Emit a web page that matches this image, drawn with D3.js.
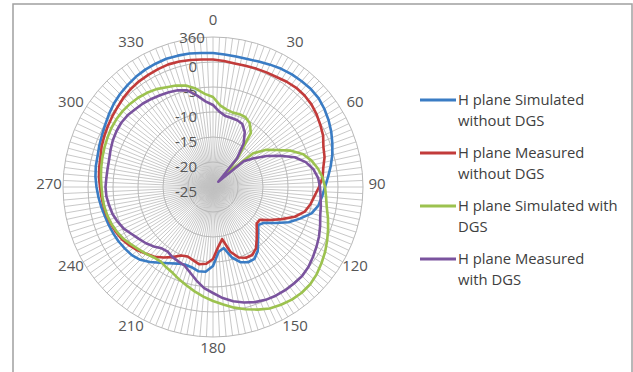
<!DOCTYPE html>
<html>
<head>
<meta charset="utf-8">
<script src="https://cdn.jsdelivr.net/npm/d3@7"></script>
<style>
  body { margin: 0; background: #fff; }
  text { font-family: "Open Sans", "Liberation Sans", sans-serif; }
</style>
</head>
<body>
<svg id="chart" width="633" height="372"></svg>
<script>
// angle categories (degrees), one value every 5 deg
const angles = d3.range(0, 360, 5);

const simNoDGS = [
  1.8, 1.6, 1.5, 1.5, 1.7, 2.0, 2.3, 2.5, 2.6, 2.7, 2.6, 2.2,
  1.7, 1.1, 0.4, -0.3, -1.1, -1.9, -2.6, -3.1, -3.6, -4.6, -6.5, -8.3,
  -10.6, -12.5, -13.2, -12.2, -11.0, -9.4, -8.4, -8.4, -9.0, -10.4, -12.6, -12.0,
  -9.2, -8.0, -7.9, -8.4, -8.5, -8.1, -7.4, -6.5, -5.4, -4.4, -3.8, -3.5,
  -3.2, -3.0, -2.8, -2.6, -2.3, -2.0, -1.7, -1.4, -1.2, -1.1, -0.8, -0.5,
  -0.1, 0.4, 0.9, 1.3, 1.6, 1.9, 2.1, 2.2, 2.3, 2.2, 2.1, 1.9
];
const measNoDGS = [
  0.5, 0.3, 0.1, 0.1, 0.2, 0.3, 0.4, 0.7, 0.9, 0.9, 0.7, 0.3,
  -0.2, -0.7, -1.5, -1.9, -2.6, -3.0, -3.8, -4.6, -5.2, -6.0, -7.6, -9.8,
  -11.8, -13.6, -13.6, -12.6, -11.4, -10.0, -9.3, -9.4, -10.0, -11.6, -14.4, -13.0,
  -10.6, -9.6, -9.3, -9.8, -10.2, -9.9, -8.8, -7.8, -6.8, -6.1, -5.3, -4.6,
  -4.0, -3.6, -3.3, -3.0, -2.8, -2.6, -2.4, -2.1, -1.9, -1.7, -1.3, -1.0,
  -0.7, -0.4, -0.1, 0.3, 0.6, 0.8, 0.9, 1.0, 1.1, 1.0, 0.8, 0.6
];
const simDGS = [
  -7.0, -8.6, -9.3, -9.6, -9.5, -9.6, -10.3, -11.8, -17.0, -21.5, -14.5, -12.0,
  -10.2, -7.8, -5.8, -4.6, -3.7, -3.0, -2.6, -2.3, -1.9, -1.2, -0.5, 0.2,
  0.9, 1.5, 2.1, 2.5, 2.6, 2.5, 2.2, 1.8, 1.1, 0.3, -0.5, -1.4,
  -2.2, -3.0, -3.8, -4.6, -5.3, -6.0, -6.4, -6.8, -6.6, -6.1, -5.6, -5.0,
  -4.3, -3.8, -3.4, -3.1, -2.9, -2.8, -2.7, -2.5, -2.3, -2.1, -1.9, -1.7,
  -1.5, -1.4, -1.4, -1.5, -1.7, -2.0, -2.4, -3.0, -3.4, -4.0, -5.0, -6.3
];
const measDGS = [
  -8.6, -9.9, -10.6, -10.7, -10.8, -11.1, -12.3, -14.3, -17.5, -23.5, -17.0, -15.0,
  -12.6, -10.2, -7.6, -5.8, -4.6, -3.9, -3.6, -3.4, -3.1, -2.8, -2.2, -1.6,
  -1.1, -0.6, -0.1, 0.2, 0.2, 0.2, 0.1, -0.1, -0.5, -1.1, -1.8, -2.7,
  -3.8, -4.7, -6.0, -7.3, -8.3, -8.6, -8.8, -9.2, -9.0, -8.2, -7.5, -6.9,
  -6.2, -5.3, -4.7, -4.2, -3.9, -3.6, -3.5, -3.6, -3.6, -3.5, -3.2, -2.9,
  -2.7, -2.6, -2.7, -3.0, -3.2, -3.5, -3.8, -4.1, -4.4, -5.0, -6.4, -7.8
];

const seriesNames = [
  ["H plane Simulated", "without DGS"],
  ["H plane Measured", "without DGS"],
  ["H plane Simulated with", "DGS"],
  ["H plane Measured", "with DGS"]
];
const seriesColors = ["#3a7cc4", "#c23b3a", "#9cc24f", "#7a539e"];
const seriesValues = [simNoDGS, measNoDGS, simDGS, measDGS];

const radialTicks = [5, 0, -5, -10, -15, -20, -25];
const radialLabels = ["", "0", "-5", "-10", "-15", "-20", "-25"];
const angleLabels = d3.range(0, 360, 30);
const spokeAngles = d3.range(0, 360, 2.5);

const svg = d3.select("#chart");
const cx = 213, cy = 187, R = 150;
const rad = d => d * Math.PI / 180;

const r = d3.scaleLinear().domain([-25, 5]).range([0, R]);

// chart frame
svg.append("rect")
  .attr("x", 13).attr("y", 4)
  .attr("width", 619).attr("height", 380)
  .attr("fill", "#fff")
  .attr("stroke", "#a0a0a0")
  .attr("stroke-width", 1.5);

const g = svg.append("g").attr("transform", `translate(${cx},${cy})`);

// spokes
g.append("g")
  .attr("stroke", "#c2c2c2")
  .attr("stroke-width", 0.9)
  .selectAll("line")
  .data(spokeAngles)
  .join("line")
  .attr("x1", 0).attr("y1", 0)
  .attr("x2", d => R * Math.sin(rad(d)))
  .attr("y2", d => -R * Math.cos(rad(d)));

// rings
g.append("g")
  .attr("fill", "none")
  .attr("stroke", "#b8b8b8")
  .attr("stroke-width", 1)
  .selectAll("circle")
  .data(radialTicks.filter(v => v > -25))
  .join("circle")
  .attr("r", d => r(d));

// radial axis labels
g.append("g")
  .attr("fill", "#555")
  .attr("font-size", 15)
  .attr("text-anchor", "end")
  .selectAll("text")
  .data(radialTicks)
  .join("text")
  .attr("x", -16)
  .attr("y", d => -r(d) + 5)
  .attr("dy", "0.35em")
  .text((d, i) => radialLabels[i]);

// angle labels
const lblR = 164;
g.append("g")
  .attr("fill", "#555")
  .attr("font-size", 15)
  .attr("text-anchor", "middle")
  .selectAll("text")
  .data(angleLabels)
  .join("text")
  .attr("x", d => lblR * Math.sin(rad(d)))
  .attr("y", d => -lblR * Math.cos(rad(d)) - 3)
  .attr("dy", "0.35em")
  .text(d => d);

// closing category label of the Excel radar
g.append("text")
  .attr("fill", "#555")
  .attr("font-size", 15)
  .attr("text-anchor", "middle")
  .attr("x", 151 * Math.sin(rad(-8)))
  .attr("y", -151 * Math.cos(rad(-8)))
  .attr("dy", "0.35em")
  .text("360");

// series lines
const line = d3.lineRadial()
  .angle((d, i) => rad(angles[i]))
  .radius(d => r(d))
  .curve(d3.curveLinearClosed);

g.append("g")
  .attr("fill", "none")
  .attr("stroke-width", 2.6)
  .attr("stroke-linejoin", "round")
  .selectAll("path")
  .data(seriesValues)
  .join("path")
  .attr("stroke", (d, i) => seriesColors[i])
  .attr("d", d => line(d));

// legend
const legend = svg.append("g").attr("transform", "translate(420,100)");
const item = legend.selectAll("g")
  .data(seriesNames)
  .join("g")
  .attr("transform", (d, i) => `translate(0,${i * 53})`);

item.append("line")
  .attr("x1", 0).attr("x2", 36)
  .attr("stroke", (d, i) => seriesColors[i])
  .attr("stroke-width", 3);

item.append("text")
  .attr("x", 38)
  .attr("fill", "#404040")
  .attr("font-size", 14.8)
  .selectAll("tspan")
  .data(d => d)
  .join("tspan")
  .attr("x", 38)
  .attr("y", (d, i) => i * 21)
  .attr("dy", "0.35em")
  .text(d => d);
</script>
</body>
</html>
